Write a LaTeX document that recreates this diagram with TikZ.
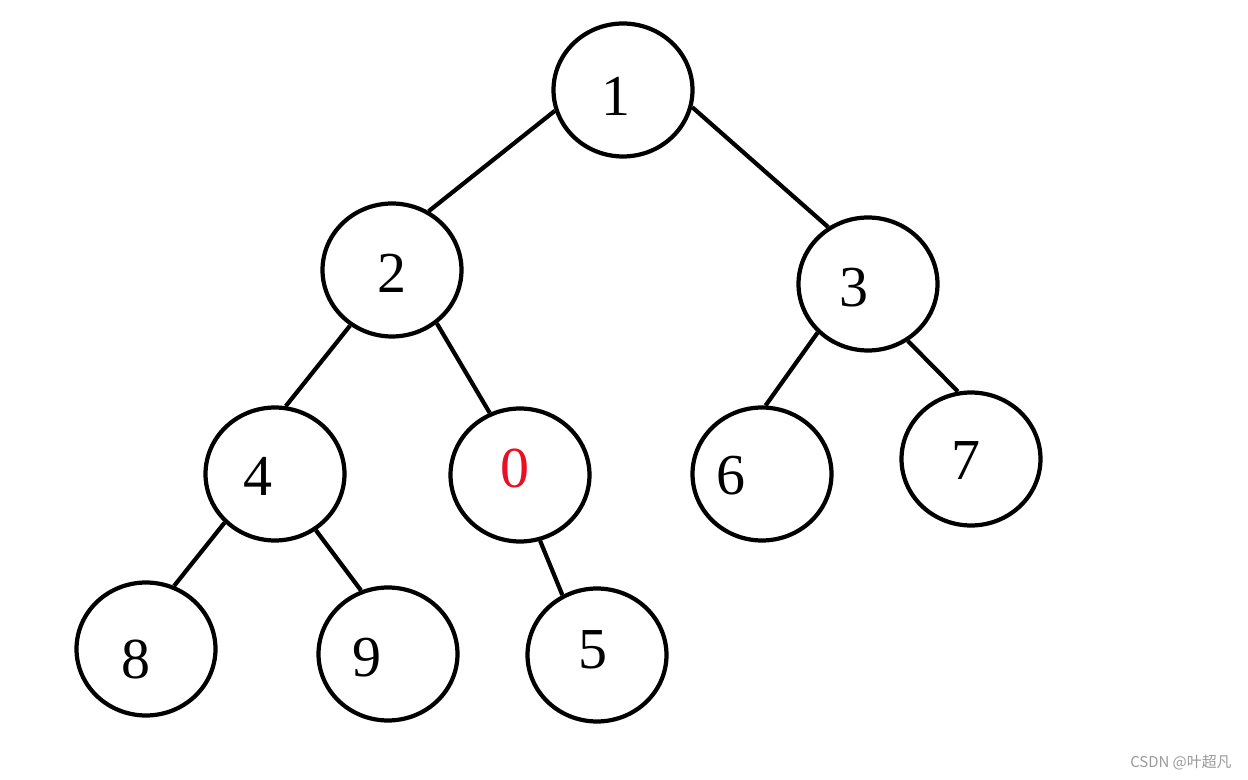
\documentclass[tikz,border=0pt]{standalone}
\usepackage{fontspec}
\setmainfont{Liberation Serif}
\newfontfamily\cjkfont{Noto Sans CJK SC}
\usetikzlibrary{shapes.geometric}
\definecolor{numred}{RGB}{232,17,35}
\begin{document}
\begin{tikzpicture}[
    x=0.02cm, y=-0.02cm,
    vert/.style={draw, ellipse, line width=2.4pt, minimum width=2.78cm, minimum height=2.66cm, inner sep=0pt},
    num/.style={inner sep=0pt, font=\fontsize{33}{39}\selectfont},
    edge/.style={line width=2.4pt}
]
    \useasboundingbox (0,0) rectangle (1248,780);

    \node[vert] (n1) at (623,90) {};
    \node[vert] (n2) at (392,270) {};
    \node[vert] (n3) at (868,284) {};
    \node[vert] (n4) at (275,474) {};
    \node[vert] (n0) at (520,475) {};
    \node[vert] (n6) at (762,474) {};
    \node[vert] (n7) at (971,459) {};
    \node[vert] (n8) at (146,649) {};
    \node[vert] (n9) at (388,654) {};
    \node[vert] (n5) at (597,655) {};

    \node[num] (t1) at (616,96) {1};
    \node[num] (t2) at (392,273) {2};
    \node[num] (t3) at (854,288) {3};
    \node[num] (t4) at (258,476) {4};
    \node[num, text=numred] (t0) at (515,469) {0};
    \node[num] (t6) at (731,476) {6};
    \node[num] (t7) at (966,461) {7};
    \node[num] (t8) at (136,660) {8};
    \node[num] (t9) at (367,658) {9};
    \node[num] (t5) at (593,650) {5};

    \draw[edge] (n1.197) -- (n2.58);
    \draw[edge] (n1.346) -- (n3.125);
    \draw[edge] (n2.233) -- (n4.81);
    \draw[edge] (n2.310) -- (n0.116);
    \draw[edge] (n3.224) -- (n6.87);
    \draw[edge] (n3.305) -- (n7.101);
    \draw[edge] (n4.224) -- (n8.66);
    \draw[edge] (n4.306) -- (n9.113);
    \draw[edge] (n0.287) -- (n5.120);

    \node[anchor=east, inner sep=0pt, text=black!40, font=\cjkfont\fontsize{8.5}{10}\selectfont] (mark) at (1232,763) {CSDN @叶超凡};
\end{tikzpicture}
\end{document}
